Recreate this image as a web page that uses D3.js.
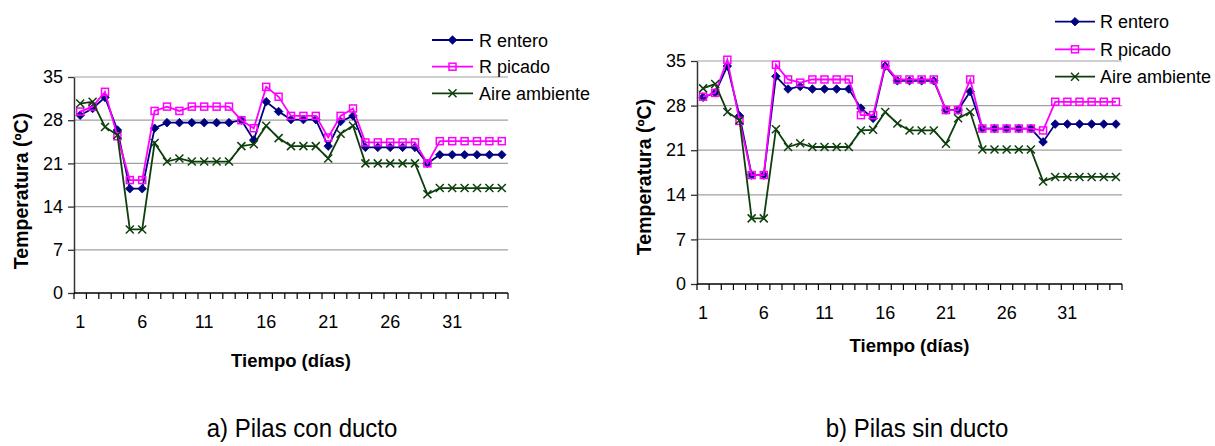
<!DOCTYPE html>
<html>
<head>
<meta charset="utf-8">
<script src="https://cdn.jsdelivr.net/npm/d3@7"></script>
<style>
  html, body { margin: 0; padding: 0; background: #fff; }
  svg { display: block; }
  text { font-family: "Liberation Sans", Arial, sans-serif; fill: #000; }
</style>
</head>
<body>
<svg id="chart" width="1215" height="446"></svg>
<script>
// ---------- DATA ----------
const days = d3.range(1, 36);
const xTickLabels = [1, 6, 11, 16, 21, 26, 31];
const yTicks = [0, 7, 14, 21, 28, 35];
const seriesNames = ["R entero", "R picado", "Aire ambiente"];

// a) Pilas con ducto
const enteroA = [28.8, 29.9, 31.7, 26.4, 16.9, 16.9, 26.7, 27.6, 27.6, 27.6, 27.6, 27.6, 27.6, 28.0, 24.8,
                 31.0, 29.4, 28.1, 28.1, 28.1, 23.8, 27.8, 28.7, 23.6, 23.6, 23.6, 23.6, 23.6, 21.0, 22.4,
                 22.4, 22.4, 22.4, 22.4, 22.4];
const picadoA = [29.4, 30.2, 32.6, 25.4, 18.3, 18.3, 29.5, 30.2, 29.5, 30.2, 30.2, 30.2, 30.2, 28.0, 26.7,
                 33.4, 31.8, 28.7, 28.7, 28.7, 25.2, 28.7, 29.9, 24.4, 24.4, 24.4, 24.4, 24.4, 21.0, 24.6,
                 24.6, 24.6, 24.6, 24.6, 24.6];
const aireA   = [30.7, 31.0, 26.9, 25.6, 10.3, 10.3, 24.3, 21.3, 21.8, 21.3, 21.3, 21.3, 21.3, 23.8, 24.1,
                 27.1, 25.1, 23.8, 23.8, 23.8, 21.8, 25.8, 27.1, 21.0, 21.0, 21.0, 21.0, 21.0, 16.0, 17.0,
                 17.0, 17.0, 17.0, 17.0, 17.0];

// b) Pilas sin ducto
const enteroB = [29.3, 30.0, 34.2, 26.4, 17.1, 17.1, 32.6, 30.6, 31.0, 30.6, 30.6, 30.6, 30.6, 27.6, 26.0,
                 34.2, 31.9, 31.9, 31.9, 31.9, 27.3, 27.3, 30.2, 24.4, 24.4, 24.4, 24.4, 24.4, 22.3, 25.1,
                 25.1, 25.1, 25.1, 25.1, 25.1];
const picadoB = [29.4, 30.0, 35.2, 25.6, 17.1, 17.1, 34.4, 32.1, 31.6, 32.1, 32.1, 32.1, 32.1, 26.5, 26.5,
                 34.4, 32.1, 32.1, 32.1, 32.1, 27.3, 27.3, 32.1, 24.4, 24.4, 24.4, 24.4, 24.4, 24.1, 28.6,
                 28.6, 28.6, 28.6, 28.6, 28.6];
const aireB   = [30.7, 31.4, 27.0, 25.7, 10.3, 10.3, 24.3, 21.5, 22.1, 21.5, 21.5, 21.5, 21.5, 24.1, 24.2,
                 27.0, 25.2, 24.1, 24.1, 24.1, 22.0, 26.0, 27.0, 21.1, 21.1, 21.1, 21.1, 21.1, 16.1, 16.8,
                 16.8, 16.8, 16.8, 16.8, 16.8];

const xTitle = "Tiempo (días)";
const yTitle = "Temperatura (ºC)";
const captions = ["a) Pilas con ducto", "b) Pilas sin ducto"];

// ---------- STYLE ----------
const colors = ["#000080", "#ff00ff", "#0d3f0d"];
const markers = ["diamond", "square", "cross"];

const svg = d3.select("#chart");

function drawMarker(g, type, color, x, y) {
  if (type === "diamond") {
    const s = 4.3;
    g.append("path")
      .attr("d", `M${x},${y - s}L${x + s},${y}L${x},${y + s}L${x - s},${y}Z`)
      .attr("fill", color).attr("stroke", color).attr("stroke-width", 0.8);
  } else if (type === "square") {
    g.append("rect").attr("x", x - 3.5).attr("y", y - 3.5).attr("width", 7).attr("height", 7)
      .attr("fill", "none").attr("stroke", color).attr("stroke-width", 1.5);
  } else {
    const s = 4;
    g.append("path")
      .attr("d", `M${x - s},${y - s}L${x + s},${y + s}M${x - s},${y + s}L${x + s},${y - s}`)
      .attr("stroke", color).attr("stroke-width", 1.5).attr("fill", "none");
  }
}

function drawChart(cfg) {
  const g = svg.append("g");
  const x = d3.scaleBand().domain(days).range([cfg.x0, cfg.x1]);
  const y = d3.scaleLinear().domain([0, 35]).range([cfg.y0, cfg.y1]);
  const cx = d => x(d) + x.bandwidth() / 2;

  // gridlines
  g.append("g").selectAll("line").data(yTicks.filter(t => t > 0)).join("line")
    .attr("x1", cfg.x0).attr("x2", cfg.x1)
    .attr("y1", d => y(d)).attr("y2", d => y(d))
    .attr("stroke", "#a0a0a0").attr("stroke-width", 1.2);

  // y axis
  const yAxis = g.append("g").attr("transform", `translate(${cfg.x0},0)`)
    .call(d3.axisLeft(y).tickValues(yTicks).tickSize(6).tickPadding(5).tickSizeOuter(0));
  yAxis.select(".domain").attr("stroke", "#333").attr("stroke-width", 1.5);
  yAxis.selectAll(".tick line").attr("stroke", "#333").attr("stroke-width", 1.3);
  yAxis.selectAll(".tick text").attr("font-size", 18).attr("font-family", "Liberation Sans, Arial, sans-serif")
    .attr("fill", "#000");

  // x axis: ticks at band boundaries
  const xb = g.append("g");
  xb.append("line").attr("x1", cfg.x0).attr("x2", cfg.x1).attr("y1", cfg.y0).attr("y2", cfg.y0)
    .attr("stroke", "#000").attr("stroke-width", 1.6);
  const bounds = days.map(d => x(d)).concat([cfg.x1]);
  xb.selectAll("line.tk").data(bounds).join("line").attr("class", "tk")
    .attr("x1", d => d).attr("x2", d => d).attr("y1", cfg.y0).attr("y2", cfg.y0 + 6)
    .attr("stroke", "#000").attr("stroke-width", 1.2);
  xb.selectAll("text").data(xTickLabels).join("text")
    .attr("x", d => cx(d)).attr("y", cfg.y0 + 35)
    .attr("text-anchor", "middle").attr("font-size", 18).text(d => d);

  // series
  const sets = [cfg.entero, cfg.picado, cfg.aire];
  sets.forEach((vals, si) => {
    const line = d3.line().x((v, i) => cx(days[i])).y(v => y(v));
    g.append("path").attr("d", line(vals)).attr("fill", "none")
      .attr("stroke", colors[si]).attr("stroke-width", 1.8);
    const mg = g.append("g");
    vals.forEach((v, i) => drawMarker(mg, markers[si], colors[si], cx(days[i]), y(v)));
  });

  // axis titles
  g.append("text").attr("x", (cfg.x0 + cfg.x1) / 2).attr("y", cfg.xTitleY)
    .attr("text-anchor", "middle").attr("font-size", 18.5).attr("font-weight", "bold").text(xTitle);
  g.append("text").attr("transform", `translate(${cfg.yTitleX},${cfg.yTitleCY}) rotate(-90)`)
    .attr("text-anchor", "middle").attr("font-size", 19.5).attr("font-weight", "bold").text(yTitle);

  // caption
  g.append("text").attr("x", cfg.capX).attr("y", 437)
    .attr("text-anchor", "middle").attr("font-size", 25)
    .attr("transform", `translate(${cfg.capX},0) scale(0.96,1) translate(${-cfg.capX},0)`)
    .text(cfg.caption);

  // legend
  const lg = g.append("g");
  seriesNames.forEach((name, i) => {
    const ly = cfg.legY[i];
    lg.append("line").attr("x1", cfg.legX0).attr("x2", cfg.legX1).attr("y1", ly).attr("y2", ly)
      .attr("stroke", colors[i]).attr("stroke-width", 1.8);
    drawMarker(lg, markers[i], colors[i], (cfg.legX0 + cfg.legX1) / 2, ly);
    lg.append("text").attr("x", cfg.legTX).attr("y", ly + 6.5).attr("font-size", 18)
      .text(name);
  });
}

drawChart({
  x0: 74, x1: 508, y0: 293, y1: 77,
  entero: enteroA, picado: picadoA, aire: aireA,
  xTitleY: 367, yTitleX: 28, yTitleCY: 191,
  capX: 302, caption: captions[0],
  legX0: 432, legX1: 473, legTX: 479, legY: [40, 66.7, 93.3]
});

drawChart({
  x0: 697, x1: 1122, y0: 284, y1: 61,
  entero: enteroB, picado: picadoB, aire: aireB,
  xTitleY: 352, yTitleX: 651, yTitleCY: 177,
  capX: 917, caption: captions[1],
  legX0: 1055, legX1: 1095, legTX: 1100, legY: [21.7, 49.3, 76.7]
});
</script>
</body>
</html>
